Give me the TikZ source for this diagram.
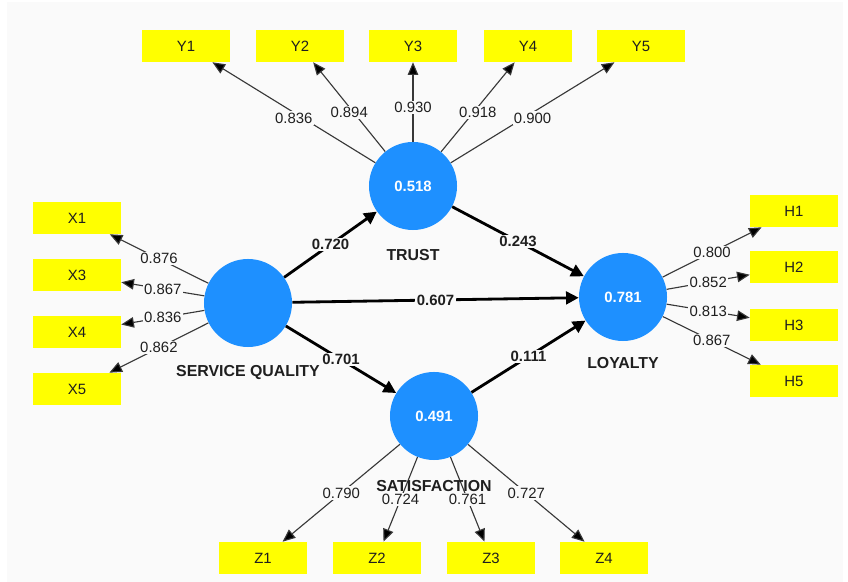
\documentclass[tikz,border=0pt]{standalone}
\usepackage{fontspec}
\setmainfont{Liberation Sans}
\usetikzlibrary{arrows.meta}
\definecolor{lvblue}{HTML}{1E90FF}
\definecolor{mvyellow}{HTML}{FFFF00}
\definecolor{canvas}{HTML}{FAFAFA}
\definecolor{darktext}{HTML}{1F1F1F}

\begin{document}
\begin{tikzpicture}[x=0.025cm,y=-0.025cm,
    font=\fontsize{10.6}{12}\selectfont,
    latent/.style={circle,fill=lvblue,minimum size=2.2cm,inner sep=0pt,
      text=white,font=\fontsize{10.6}{12}\selectfont\bfseries},
    manifest/.style={rectangle,fill=mvyellow,minimum width=2.2cm,
      minimum height=0.8cm,inner sep=0pt,text=darktext},
    lvname/.style={font=\fontsize{11.3}{13}\selectfont\bfseries,text=darktext},
    load/.style={draw=black!78,line width=0.8pt,
      -{Triangle[length=9pt,width=7.5pt]}},
    structural/.style={draw=black,line width=2pt,
      -{Triangle[length=9pt,width=9pt]}},
    coef/.style={fill=canvas,inner sep=1pt,text=darktext}]
  \useasboundingbox (0,0) rectangle (848,582);
  \fill[canvas] (7,2) rectangle (843,582);

  % latent variables
  \node[latent] (trust) at (413,186) {0.518};
  \node[latent] (sq) at (248,303) {};
  \node[latent] (loy) at (623,297) {0.781};
  \node[latent] (sat) at (434,416) {0.491};

  % indicators
  \foreach \i/\x in {1/186,2/300,3/413,4/528,5/641}
    \node[manifest] (y\i) at (\x,46) {Y\i};
  \foreach \i/\y in {1/218,3/275,4/332,5/389}
    \node[manifest] (x\i) at (77,\y) {X\i};
  \foreach \i/\y in {1/211,2/267,3/325,5/381}
    \node[manifest] (h\i) at (794,\y) {H\i};
  \foreach \i/\x in {1/263,2/377,3/491,4/604}
    \node[manifest] (z\i) at (\x,558) {Z\i};

  % outer loadings
  \foreach \i/\v in {1/0.836,2/0.894,3/0.930,4/0.918,5/0.900}
    \path[load] (trust) edge node[coef,yshift=-4pt] {\v} (y\i);
  \foreach \i/\v in {1/0.876,3/0.867,4/0.836,5/0.862}
    \path[load] (sq) edge node[coef] {\v} (x\i);
  \foreach \i/\v in {1/0.800,2/0.852,3/0.813,5/0.867}
    \path[load] (loy) edge node[coef] {\v} (h\i);
  \foreach \i/\v in {1/0.790,2/0.724,3/0.761,4/0.727}
    \path[load] (sat) edge node[coef] {\v} (z\i);

  % path coefficients
  \path[structural,every node/.style={coef,font=\fontsize{10.6}{12}\selectfont\bfseries}]
    (sq) edge node {0.720} (trust)
    (trust) edge node {0.243} (loy)
    (sq) edge node {0.607} (loy)
    (sq) edge node {0.701} (sat)
    (sat) edge node {0.111} (loy);

  % construct names
  \node[lvname] (trustname) at (413,255) {TRUST};
  \node[lvname] (sqname) at (248,373) {SERVICE QUALITY};
  \node[lvname] (loyname) at (623,363) {LOYALTY};
  \node[lvname] (satname) at (434,486) {SATISFACTION};
\end{tikzpicture}
\end{document}
